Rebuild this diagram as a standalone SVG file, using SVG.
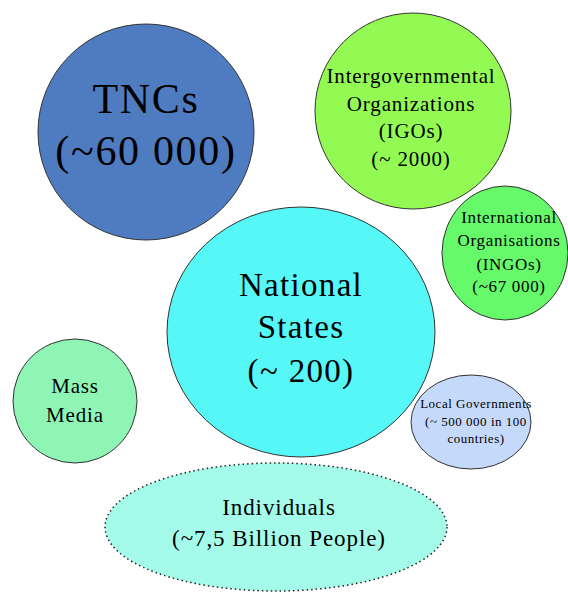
<svg xmlns="http://www.w3.org/2000/svg" width="568" height="595" viewBox="0 0 568 595">
<style>
.n{stroke:#333;stroke-width:1}
.t{font-family:"Liberation Serif","DejaVu Serif",serif;fill:#000;text-anchor:middle;letter-spacing:0.04em}
</style>
<rect width="568" height="595" fill="#fff"/>
<g id="connectors"/>
<g id="tncs">
<circle class="n" cx="146" cy="132" r="108" fill="#4f7cc0"/>
<text class="t" x="146" y="113" font-size="42">TNCs</text>
<text class="t" x="146" y="165" font-size="42">(~60 000)</text>
</g>
<g id="igos">
<circle class="n" cx="413" cy="111" r="98" fill="#93fa53"/>
<text class="t" x="411" y="83" font-size="21">Intergovernmental</text>
<text class="t" x="411" y="111" font-size="21">Organizations</text>
<text class="t" x="411" y="138" font-size="21">(IGOs)</text>
<text class="t" x="411" y="166" font-size="21">(~ 2000)</text>
</g>
<g id="ingos">
<ellipse class="n" cx="505" cy="253" rx="63" ry="67" fill="#66f96a"/>
<text class="t" x="509" y="223" font-size="17">International</text>
<text class="t" x="509" y="246" font-size="17">Organisations</text>
<text class="t" x="509" y="270" font-size="17">(INGOs)</text>
<text class="t" x="509" y="292" font-size="17">(~67 000)</text>
</g>
<g id="states">
<ellipse class="n" cx="301" cy="332" rx="134" ry="125" fill="#56f7f7"/>
<text class="t" x="301" y="296" font-size="33">National</text>
<text class="t" x="301" y="338" font-size="33">States</text>
<text class="t" x="301" y="382" font-size="33">(~ 200)</text>
</g>
<g id="media">
<circle class="n" cx="75" cy="401" r="62" fill="#8ef5b4"/>
<text class="t" x="75" y="393" font-size="21">Mass</text>
<text class="t" x="75" y="422" font-size="21">Media</text>
</g>
<g id="local">
<ellipse class="n" cx="471" cy="422" rx="60" ry="47" fill="#c5dafa"/>
<text class="t" x="476" y="408" font-size="13">Local Governments</text>
<text class="t" x="476" y="426" font-size="13">(~ 500 000 in 100</text>
<text class="t" x="476" y="443" font-size="13">countries)</text>
</g>
<g id="individuals">
<ellipse cx="276" cy="527" rx="171" ry="64" fill="#a5fbe9" stroke="#222" stroke-width="1.5" stroke-dasharray="1.5 3"/>
<text class="t" x="279" y="515" font-size="23">Individuals</text>
<text class="t" x="279" y="546" font-size="23">(~7,5 Billion People)</text>
</g>
</svg>
